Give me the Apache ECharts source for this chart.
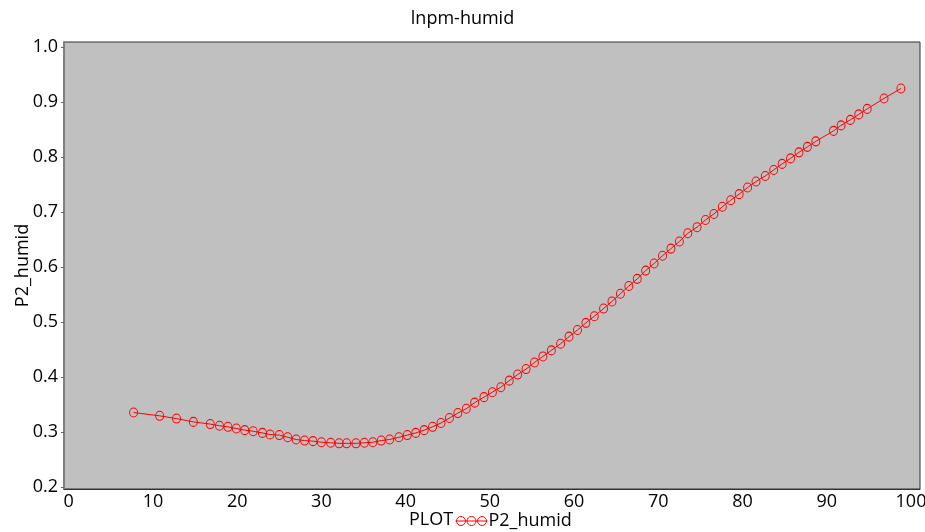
<!DOCTYPE html>
<html>
<head>
<meta charset="utf-8">
<script src="https://cdn.jsdelivr.net/npm/echarts@6/dist/echarts.min.js"></script>
<style>
  html, body { margin: 0; padding: 0; background: #fff; }
  #ec { width: 925px; height: 532px; }
</style>
</head>
<body>
<div id="ec"></div>
<script>
// humidity (x) and fitted P2_humid (y)
var humidX = [7.7, 10.8, 12.8, 14.8, 16.8, 17.9, 18.9, 19.9, 20.9, 21.9,
  23.0, 23.9, 25.0, 26.0, 27.0, 28.0, 29.0, 30.0, 31.1, 32.1,
  33.0, 34.1, 35.1, 36.1, 37.1, 38.1, 39.2, 40.2, 41.2, 42.2,
  43.2, 44.2, 45.2, 46.2, 47.2, 48.2, 49.3, 50.3, 51.3, 52.3,
  53.3, 54.3, 55.3, 56.3, 57.3, 58.4, 59.4, 60.4, 61.4, 62.4,
  63.5, 64.5, 65.5, 66.5, 67.5, 68.5, 69.5, 70.5, 71.5, 72.5,
  73.5, 74.6, 75.6, 76.6, 77.6, 78.6, 79.6, 80.6, 81.6, 82.7,
  83.7, 84.7, 85.7, 86.7, 87.7, 88.7, 90.8, 91.7, 92.8, 93.8,
  94.8, 96.8, 98.8]
var humidY = [0.336, 0.330, 0.325, 0.319, 0.315, 0.312, 0.310, 0.307, 0.304, 0.302,
  0.299, 0.296, 0.295, 0.291, 0.287, 0.285, 0.284, 0.282, 0.281, 0.280,
  0.280, 0.280, 0.281, 0.282, 0.285, 0.287, 0.291, 0.295, 0.299, 0.304,
  0.310, 0.317, 0.326, 0.335, 0.343, 0.354, 0.364, 0.373, 0.382, 0.394,
  0.405, 0.415, 0.427, 0.438, 0.449, 0.461, 0.474, 0.486, 0.499, 0.511,
  0.525, 0.538, 0.552, 0.566, 0.579, 0.594, 0.607, 0.621, 0.634, 0.647,
  0.662, 0.673, 0.686, 0.697, 0.710, 0.722, 0.733, 0.745, 0.756, 0.766,
  0.777, 0.788, 0.798, 0.809, 0.819, 0.829, 0.848, 0.858, 0.868, 0.878,
  0.888, 0.907, 0.925]
var xTicks = [0, 10, 20, 30, 40, 50, 60, 70, 80, 90, 100]
var yTicks = [0.2, 0.3, 0.4, 0.5, 0.6, 0.7, 0.8, 0.9, 1.0]

var font = 'Open Sans'
var points = humidX.map(function (x, i) { return [x, humidY[i]] })

var myEchart = echarts.init(document.getElementById('ec'))
myEchart.setOption({
  animation: false,
  title: {
    text: 'lnpm-humid',
    left: 'center',
    top: 5,
    textStyle: { fontFamily: font, fontSize: 18, fontWeight: 'normal', color: '#000' }
  },
  legend: {
    data: ['P2_humid'],
    left: 450,
    bottom: -3,
    itemWidth: 32,
    itemHeight: 10,
    icon: 'path://M0,5L32,5M1,5A4.5,4.5,0,1,0,10,5A4.5,4.5,0,1,0,1,5M11.5,5A4.5,4.5,0,1,0,20.5,5A4.5,4.5,0,1,0,11.5,5M22,5A4.5,4.5,0,1,0,31,5A4.5,4.5,0,1,0,22,5',
    itemStyle: { color: 'transparent', borderColor: '#ff0000', borderWidth: 1 },
    textStyle: { fontFamily: font, fontSize: 18, color: '#000', padding: [0, 0, 0, -4] }
  },
  grid: {
    left: 64,
    right: 5,
    top: 42,
    bottom: 43,
    outerBoundsMode: 'none',
    show: true,
    backgroundColor: '#c0c0c0',
    borderColor: '#333',
    borderWidth: 1
  },
  xAxis: {
    type: 'value',
    min: -0.56,
    max: 101.07,
    name: 'PLOT',
    nameLocation: 'middle',
    nameGap: 22,
    nameMoveOverlap: false,
    nameTextStyle: { fontFamily: font, fontSize: 18, color: '#000', padding: [0, 122, 0, 0] },
    axisLine: { show: true, onZero: false, lineStyle: { color: '#333', width: 1 } },
    axisTick: { show: false, customValues: xTicks },
    axisLabel: { customValues: xTicks, fontFamily: font, fontSize: 18, color: '#000', margin: 4 },
    splitLine: { show: false }
  },
  yAxis: {
    type: 'value',
    min: 0.197,
    max: 1.0096,
    name: 'P2_humid',
    nameLocation: 'middle',
    nameGap: 32,
    nameMoveOverlap: false,
    nameTextStyle: { fontFamily: font, fontSize: 18, color: '#000' },
    axisLine: { show: true, onZero: false, lineStyle: { color: '#808080', width: 2 } },
    axisTick: { show: true, length: 3, customValues: yTicks, lineStyle: { color: '#666' } },
    axisLabel: {
      customValues: yTicks,
      fontFamily: font,
      fontSize: 18,
      color: '#000',
      margin: 6,
      formatter: function (v) { return v.toFixed(1) }
    },
    splitLine: { show: false }
  },
  series: [
    {
      name: 'P2_humid',
      type: 'line',
      data: points,
      symbol: 'circle',
      symbolSize: [8, 9],
      showAllSymbol: true,
      lineStyle: { color: '#ff0000', width: 1 },
      itemStyle: { color: 'transparent', borderColor: '#ff0000', borderWidth: 1 }
    }
  ]
})
</script>
</body>
</html>
